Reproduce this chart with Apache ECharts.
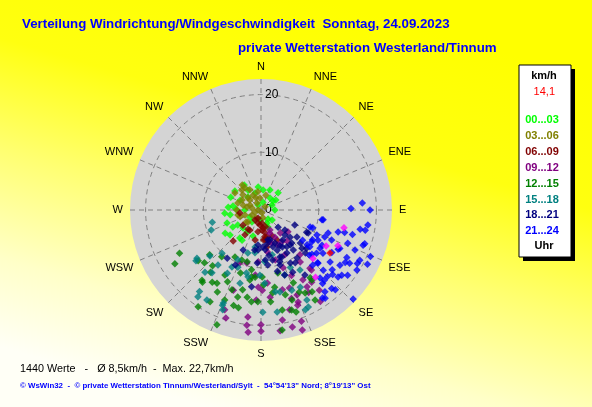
<!DOCTYPE html>
<html>
<head>
<meta charset="utf-8">
<script src="https://cdn.jsdelivr.net/npm/echarts/dist/echarts.min.js"></script>
<style>
html, body { margin: 0; padding: 0; }
#chart { width: 592px; height: 407px; }
</style>
</head>
<body>
<div id="chart"></div>
<script>
// Achsen
const richtungen = ['N','NNE','NE','ENE','E','ESE','SE','SSE','S','SSW','SW','WSW','W','WNW','NW','NNW'];
const radiusTicks = [0, 10, 20];
const maxWind = 22.7;

// Zeitabschnitte (Legende)
const zeitraeume = ['00...03','03...06','06...09','09...12','12...15','15...18','18...21','21...24'];
const farben = ['#00ff00','#808000','#800000','#800080','#008000','#008080','#000080','#0000ff'];

// Messwerte je Zeitabschnitt: [km/h, Richtung in Grad]
const werte0003 = [[5.2,326],[3.5,6],[4.2,45],[4.9,278],[6.3,265],[5.4,261],[5.7,239],[4.4,225],[7.4,237],[6.9,231],[6.1,217],[6.2,212],[4.7,197],[2.1,66],[2.6,53],[2.6,37],[1.4,14],[2.3,237],[1.7,186],[2.0,142],[2.5,155],[4.0,295],[4.3,272],[2.4,90],[3.1,341],[4.1,327],[6.3,249],[2.6,132],[3.2,158],[3.2,315],[1.0,329],[2.8,270],[2.6,217],[5.6,306],[5.7,293],[5.7,275],[4.0,353],[3.8,24],[3.1,56],[4.8,237],[4.5,212]];
const werte0306 = [[5.4,303],[4.1,310],[2.6,312],[1.4,330],[2.5,282],[1.1,252],[0.5,162],[3.8,252],[3.1,227],[4.2,270],[2.1,355],[0.9,53],[2.9,332],[4.7,324],[4.2,287],[1.6,283],[3.2,350],[2.7,18],[2.9,253],[3.2,285],[1.6,212],[4.0,331],[3.7,298],[4.8,316],[5.4,323],[3.1,313],[2.3,337],[4.1,258],[3.3,231],[1.8,241],[1.4,166],[0.5,270],[2.1,294]];
const werte0609 = [[2.3,176],[3.1,174],[4.0,170],[4.8,167],[3.8,188],[4.0,209],[7.2,222],[4.1,230],[5.7,166],[6.5,171],[3.7,262],[2.6,184],[2.0,211],[4.0,214],[2.3,193],[3.5,177],[4.7,172],[3.0,165],[5.2,175],[1.5,200],[5.3,191],[4.9,157],[5.9,152],[5.2,172],[5.1,213]];
const werte0912 = [[3.8,156],[5.3,153],[5.2,140],[6.0,162],[6.6,147],[6.0,129],[7.0,140],[4.3,159],[10.7,159],[14.1,149],[16.5,150],[17.2,144],[18.9,147],[17.2,158],[18.0,164],[19.4,169],[21.0,165],[13.9,179],[15.2,174],[19.9,180],[15.3,145],[14.4,160],[16.0,157],[18.4,200],[18.7,187],[21.3,186],[14.7,199],[15.6,183],[9.5,195],[20.5,160],[17.7,159],[12.7,175],[20.1,187],[21.0,180],[21.2,171],[22.0,161],[19.7,198],[8.8,152],[11.3,143],[13.2,140],[9.0,164],[12.5,155],[11.3,185],[9.9,202],[13.4,182],[14.3,165],[16.2,161],[15.5,149],[13.6,140],[6.7,154],[7.4,171],[10.3,139],[9.0,183]];
const werte1215 = [[16.0,242],[17.6,238],[14.0,231],[11.8,229],[12.8,221],[15.9,220],[14.8,211],[16.1,208],[18.2,209],[20.0,213],[16.8,202],[21.3,201],[17.2,196],[17.4,193],[13.7,205],[14.7,200],[14.2,193],[15.3,189],[11.5,198],[12.3,189],[9.3,195],[9.3,209],[10.6,220],[11.7,185],[13.0,178],[13.6,170],[15.3,164],[16.0,174],[16.5,161],[18.7,161],[17.7,168],[21.1,170],[15.9,182],[15.7,155],[16.7,148],[14.5,144],[18.2,149],[13.8,156],[11.7,188],[15.1,214],[15.6,195],[16.0,186],[18.1,163],[16.3,152],[15.0,144],[14.5,172],[11.6,179],[11.3,165],[9.3,201],[10.5,189],[12.9,209],[13.9,219],[16.1,219],[13.4,227]];
const werte1518 = [[8.7,256],[10.1,222],[11.9,228],[13.9,233],[12.1,218],[14.5,222],[13.8,218],[17.7,217],[17.4,202],[12.4,208],[10.7,202],[7.8,197],[11.2,193],[11.1,207],[13.2,196],[7.5,188],[6.5,189],[9.0,176],[11.3,181],[12.0,160],[12.4,147],[18.7,154],[18.9,156],[17.9,171],[17.7,179],[14.6,167],[15.0,153],[18.6,216],[14.3,232],[18.5,201],[8.0,166],[11.2,153],[9.3,248],[18.2,211],[17.8,202],[9.5,205],[11.8,191],[12.7,177],[14.4,170],[14.9,159],[17.5,153]];
const werte1821 = [[4.2,135],[6.4,114],[8.8,116],[7.0,189],[6.4,177],[7.5,158],[7.8,145],[6.2,157],[7.4,150],[8.7,149],[8.9,141],[8.8,158],[8.9,167],[10.5,151],[10.4,143],[6.4,144],[8.9,130],[10.3,130],[9.1,116],[6.9,174],[9.6,173],[12.1,153],[13.6,146],[6.1,185],[10.2,215],[10.5,205],[7.6,204],[13.4,187],[5.4,163],[6.9,133],[5.4,130],[7.8,127],[9.7,133],[7.9,140],[12.0,160],[9.5,160],[7.0,152],[8.0,170],[11.0,165],[6.0,170],[6.9,184],[8.7,175],[6.7,162],[8.9,156],[7.8,137],[10.9,147],[10.1,161],[5.3,167],[6.0,136],[9.2,184],[10.7,134]];
const werte2124 = [[17.6,86],[15.6,89],[18.9,90],[10.7,99],[17.5,101],[18.7,98],[16.4,105],[18.7,109],[20.6,113],[20.7,117],[19.6,122],[18.8,127],[18.0,129],[22.2,134],[18.9,137],[18.0,142],[15.6,139],[13.1,137],[11.5,133],[10.0,127],[9.5,109],[12.3,109],[13.3,113],[15.2,116],[17.0,119],[16.7,125],[15.0,127],[13.1,125],[11.2,118],[13.9,106],[16.1,111],[17.7,113],[15.0,105],[12.2,123],[17.9,121],[16.7,132],[19.2,117],[8.9,126],[10.4,122],[14.3,121],[16.6,140],[10.6,127],[13.4,133],[16.3,135],[18.3,138],[18.9,144],[15.0,134],[12.2,128],[10.9,99],[18.4,101],[10.6,114],[12.2,120],[9.0,109],[10.3,120],[12.0,113],[15.0,117],[17.2,122],[16.1,130],[16.4,138],[17.7,131],[19.1,119],[18.9,108],[18.6,145],[13.5,133],[11.7,131]];
const letzteStunde = [[14.7,102],[14.7,115],[12.9,119],[12.3,133],[15.0,141]];
const aktuell = [[14.1,122]];
const aktuellText = '14,1';

const alleWerte = [werte0003, werte0306, werte0609, werte0912, werte1215, werte1518, werte1821, werte2124];

const titel = 'Verteilung Windrichtung/Windgeschwindigkeit  Sonntag, 24.09.2023';
const untertitel = 'private Wetterstation Westerland/Tinnum';
const statistik = '1440 Werte   -   \u00d8 8,5km/h  -  Max. 22,7km/h';
const copyright = '\u00a9 WsWin32  -  \u00a9 private Wetterstation Tinnum/Westerland/Sylt  -  54\u00b054\'13" Nord; 8\u00b019\'13" Ost';

const schrift = '"Liberation Sans", Arial, sans-serif';
const raster = { color: '#808080', width: 1, type: [5, 4] };

const chart = echarts.init(document.getElementById('chart'));

const punktSerien = alleWerte.map((werte, i) => ({
  name: zeitraeume[i],
  type: 'scatter',
  coordinateSystem: 'polar',
  polarIndex: 0,
  data: werte,
  symbol: 'diamond',
  symbolSize: 7.5,
  silent: true,
  z: 3,
  itemStyle: { color: farben[i] }
}));

punktSerien.push({
  type: 'scatter', coordinateSystem: 'polar', polarIndex: 0, data: letzteStunde, z: 3,
  symbol: 'diamond', symbolSize: 7.5, silent: true,
  itemStyle: { color: '#ff00ff' }
});
punktSerien.push({
  type: 'scatter', coordinateSystem: 'polar', polarIndex: 0, data: aktuell, z: 3,
  symbol: 'diamond', symbolSize: 7.5, silent: true,
  itemStyle: { color: '#ff0000' }
});

function txt(text, x, y, farbe, font, align) {
  return {
    type: 'text', z: 100,
    style: {
      text: text, x: x, y: y, fill: farbe, font: font,
      textAlign: align || 'left', align: align || 'left',
      textVerticalAlign: 'middle', verticalAlign: 'middle'
    }
  };
}

const legendeY = [120, 136, 152, 168, 184, 200, 215, 231];

const grafik = [
  {
    type: 'rect', z: -100, silent: true,
    shape: { x: 0, y: 0, width: 592, height: 407 },
    style: {
      fill: new echarts.graphic.LinearGradient(0.55, 0, 0.35, 1, [
        { offset: 0, color: '#ffff00' },
        { offset: 0.3, color: '#ffff10' },
        { offset: 0.55, color: '#ffff70' },
        { offset: 0.8, color: '#ffffc8' },
        { offset: 1, color: '#fffff6' }
      ])
    }
  },
  txt(titel, 22, 24, '#0000ff', 'bold 13.3px ' + schrift),
  txt(untertitel, 238, 48, '#0000ff', 'bold 13.3px ' + schrift),
  txt(statistik, 20, 369, '#000000', '10.8px ' + schrift),
  txt(copyright, 20, 386, '#0000ff', 'bold 7.9px ' + schrift),
  { type: 'rect', z: 99, shape: { x: 523, y: 69, width: 52, height: 192 }, style: { fill: '#000' } },
  { type: 'rect', z: 99, shape: { x: 519, y: 65, width: 52, height: 192 }, style: { fill: '#fff', stroke: '#000', lineWidth: 1 } },
  txt('km/h', 544, 76, '#000', 'bold 11px ' + schrift, 'center'),
  txt(aktuellText, 555, 92, '#ff0000', '11px ' + schrift, 'right'),
  txt('Uhr', 544, 246, '#000', 'bold 11px ' + schrift, 'center')
].concat(zeitraeume.map((z, i) => txt(z, 542, legendeY[i], farben[i], 'bold 11px ' + schrift, 'center')));

// zwei deckungsgleiche Polar-Systeme: 0 = graue Scheibe + Beschriftung + Punkte, 1 = Raster
const option = {
  animation: false,
  polar: [
    { center: [261, 210], radius: 131 },
    { center: [261, 210], radius: 131 }
  ],
  angleAxis: [
    {
      polarIndex: 0, type: 'value', min: 0, max: 360, interval: 22.5,
      startAngle: 90, clockwise: true, z: 0,
      axisLine: { show: false },
      axisTick: { show: false },
      axisLabel: {
        margin: 7, color: '#000', fontSize: 11, fontFamily: schrift,
        formatter: v => (v >= 360 ? '' : richtungen[Math.round(v / 22.5) % 16])
      },
      splitLine: { show: false },
      splitArea: { show: true, areaStyle: { color: ['#d4d4d4'] } }
    },
    {
      polarIndex: 1, type: 'value', min: 0, max: 360, interval: 22.5,
      startAngle: 90, clockwise: true, z: 1,
      axisLine: { show: false },
      axisTick: { show: false },
      axisLabel: { show: false },
      splitLine: { show: true, lineStyle: raster },
      splitArea: { show: false }
    }
  ],
  radiusAxis: [
    {
      polarIndex: 0, min: 0, max: maxWind, interval: 10, z: 2,
      axisLine: { show: false },
      axisTick: { show: false },
      splitLine: { show: false },
      splitArea: { show: false },
      axisLabel: {
        color: '#000', fontSize: 12, fontFamily: schrift, margin: -4, align: 'left',
        formatter: v => (radiusTicks.indexOf(v) >= 0 ? String(v) : '')
      }
    },
    {
      polarIndex: 1, min: 0, max: maxWind, interval: 10, z: 1,
      axisLine: { show: false },
      axisTick: { show: false },
      axisLabel: { show: false },
      splitArea: { show: false },
      splitLine: {
        show: true,
        lineStyle: { color: ['#808080', '#808080', '#808080', 'rgba(0,0,0,0)'], width: 1, type: [5, 4] }
      }
    }
  ],
  graphic: grafik,
  series: punktSerien
};

chart.setOption(option);
</script>
</body>
</html>
